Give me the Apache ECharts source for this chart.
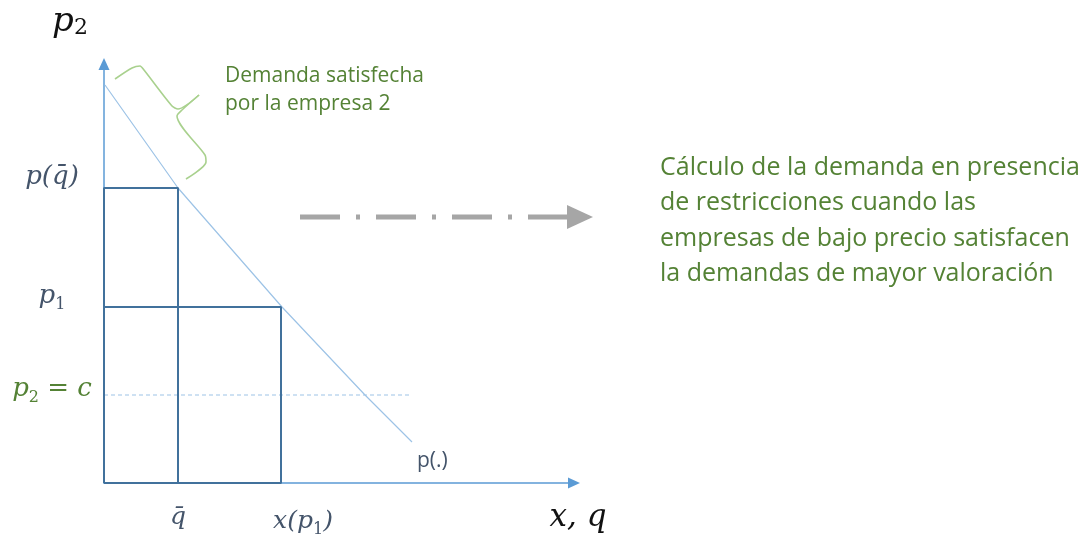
<!DOCTYPE html>
<html>
<head>
<meta charset="utf-8">
<script src="https://cdn.jsdelivr.net/npm/echarts@6/dist/echarts.min.js"></script>
<style>
    html, body { margin: 0; padding: 0; background: #fff; }
    #chart { width: 1091px; height: 546px; }
</style>
</head>
<body>
<div id="chart"></div>
<script>
    // curva de demanda p(.)  (x = cantidad, y = precio)
    var demandX = [1, 74, 178, 261, 308];
    var demandY = [398, 295, 176, 88, 41];
    // niveles de cantidad y precio
    var qBar = 74, xP1 = 177;
    var pQBar = 295, p1 = 176, cost = 88;
    var costLineEnd = 308;
    var yTickValues = [pQBar, p1, cost];
    var yTickLabels = ['{a|p(q̄)}', '{a|p}{s|1}', '{g|p}{gs|2}{g| = c}'];
    var xTickValues = [qBar, xP1];
    var xTickLabels = ['{a|q̄}', '{b|x(p}{s|1}{a|)}'];
    // llave "demanda satisfecha"
    var braceTopX = [11, 28, 36, 40, 68, 74, 95];
    var braceTopY = [404, 415, 417, 413, 377, 374, 388];
    var braceBotX = [95, 78, 73, 101, 102, 82];
    var braceBotY = [388, 373, 367, 328, 321, 304];
    // flecha gris punto-raya
    var arrowX = [196, 476];
    var arrowY = [266, 266];

    function zip(xs, ys) {
        var out = [];
        for (var i = 0; i < xs.length; i++) out.push([xs[i], ys[i]]);
        return out;
    }

    var mathFont = 'DejaVu Serif';
    var green = '#548235';
    var slate = '#44546A';

    function mathStyle(color, size, pad) {
        return { color: color, fontFamily: mathFont, fontStyle: 'italic', fontSize: size, padding: pad };
    }
    function subStyle(color, size, pad) {
        return { color: color, fontFamily: mathFont, fontSize: size, padding: pad };
    }

    var myChart = echarts.init(document.getElementById('chart'));
    myChart.setOption({
        animation: false,
        grid: { left: 104, right: 517, top: 64, bottom: 63 },
        xAxis: {
            type: 'value', min: 0, max: 470,
            splitLine: { show: false },
            axisTick: { show: false },
            axisLine: {
                lineStyle: { color: '#5B9BD5', width: 1.5 },
                symbol: ['none', 'triangle'], symbolSize: [11, 12]
            },
            axisLabel: {
                customValues: xTickValues,
                margin: 22,
                formatter: function (v) {
                    return xTickLabels[xTickValues.indexOf(v)];
                },
                rich: {
                    a: mathStyle(slate, 25, [0, 0, 0, 0]),
                    b: mathStyle(slate, 25, [0, 0, 0, 44]),
                    s: subStyle(slate, 16, [17, 0, 0, 0])
                }
            }
        },
        yAxis: {
            type: 'value', min: 0, max: 419,
            splitLine: { show: false },
            axisTick: { show: false },
            axisLine: {
                lineStyle: { color: '#5B9BD5', width: 1.5 },
                symbol: ['none', 'triangle'], symbolSize: [11, 12]
            },
            axisLabel: {
                customValues: yTickValues,
                margin: 52,
                align: 'center',
                formatter: function (v) {
                    return yTickLabels[yTickValues.indexOf(v)];
                },
                rich: {
                    a: mathStyle(slate, 26, [0, 0, 21, 0]),
                    s: subStyle(slate, 16, [0, 0, 4, 0]),
                    g: mathStyle(green, 26, [0, 0, 12, 0]),
                    gs: subStyle(green, 16, [5, 0, 0, 0])
                }
            }
        },
        series: [
            {   // p(.)
                type: 'line', data: zip(demandX, demandY), symbol: 'none', z: 3,
                lineStyle: { color: '#9DC3E6', width: 1.2 }
            },
            {   // p2 = c
                type: 'line', data: [[0, cost], [costLineEnd, cost]], symbol: 'none',
                lineStyle: { color: '#9DC3E6', width: 1, type: [4, 3] }
            },
            {   // rectangulo q̄ x p(q̄)
                type: 'line', symbol: 'none', z: 4,
                data: [[0, 0], [0, pQBar], [qBar, pQBar], [qBar, 0]],
                lineStyle: { color: '#41719C', width: 2 }
            },
            {   // rectangulo x(p1) x p1
                type: 'line', symbol: 'none', z: 4,
                data: [[0, p1], [xP1, p1], [xP1, 0], [0, 0]],
                lineStyle: { color: '#41719C', width: 2 }
            },
            {   // llave
                type: 'line', data: zip(braceTopX, braceTopY), symbol: 'none', smooth: 0.25, clip: false,
                lineStyle: { color: '#A9D18E', width: 1.6 }
            },
            {
                type: 'line', data: zip(braceBotX, braceBotY), symbol: 'none', smooth: 0.25, clip: false,
                lineStyle: { color: '#A9D18E', width: 1.6 }
            },
            {   // flecha gris
                type: 'line', clip: false, showSymbol: true,
                data: [
                    { value: [arrowX[0], arrowY[0]], symbol: 'none' },
                    { value: [arrowX[1], arrowY[1]], symbol: 'triangle', symbolSize: [24, 26], symbolRotate: -90 }
                ],
                itemStyle: { color: '#A6A6A6' },
                lineStyle: { color: '#A6A6A6', width: 5, type: [40, 16, 4, 16] }
            }
        ],
        graphic: [
            {
                type: 'text', x: 70, y: 22,
                style: {
                    text: '{a|p}{s|2}', textAlign: 'center', textVerticalAlign: 'middle',
                    rich: {
                        a: { fill: '#111', fontFamily: mathFont, fontStyle: 'italic', fontSize: 34 },
                        s: { fill: '#111', fontFamily: mathFont, fontSize: 22, padding: [12, 0, 0, 0] }
                    }
                }
            },
            {
                type: 'text', x: 578, y: 518,
                style: { text: 'x, q', fill: '#111', font: 'italic 31px "DejaVu Serif"', textAlign: 'center', textVerticalAlign: 'middle' }
            },
            {
                type: 'text', x: 417, y: 461,
                style: { text: 'p(.)', fill: slate, font: '21px "Open Sans"', textVerticalAlign: 'middle' }
            },
            {
                type: 'text', x: 225, y: 62,
                style: { text: 'Demanda satisfecha\npor la empresa 2', fill: green, font: '21px "Open Sans"', lineHeight: 28 }
            },
            {
                type: 'text', x: 660, y: 150,
                style: {
                    text: 'Cálculo de la demanda en presencia\nde restricciones cuando las\nempresas de bajo precio satisfacen\nla demandas de mayor valoración',
                    fill: green, font: '25px "Open Sans"', lineHeight: 35.5
                }
            }
        ]
    });
</script>
</body>
</html>
